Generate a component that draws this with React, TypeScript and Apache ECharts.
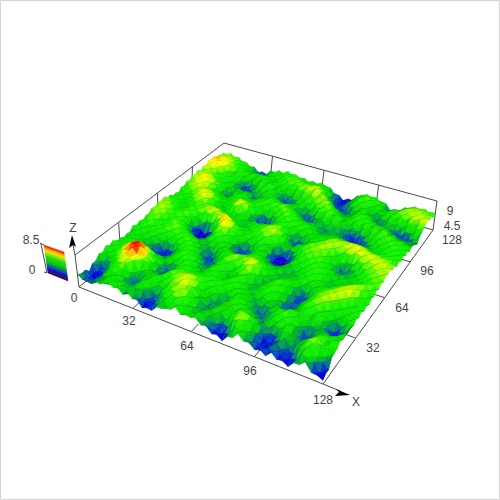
import React, { useEffect, useRef } from "react";
import * as echarts from "echarts";

// Surface heights, tenths of a Z unit. Rows run from Y=0 to Y=128, columns from X=0 to X=128.
const r00=[36,27,26,24,36,33,39,45,38,41,29,40,27,29,13,17,15,30,31,36,38,51,35,40,37,42,28,31,16,19,8,25,27,44,30,31,19,25,14,30,16,18,9,24,25,38,17,16,9];
const r01=[29,28,14,27,27,35,47,32,50,41,40,27,42,24,23,10,26,27,45,31,51,47,49,32,41,46,30,33,17,12,18,23,48,42,41,23,24,12,24,22,23,11,20,22,43,40,34,13,17];
const r02=[31,14,17,13,34,37,43,49,36,40,26,39,36,38,20,21,22,43,42,56,53,59,42,38,33,41,35,40,23,29,26,51,56,57,35,33,14,17,13,33,21,25,21,42,47,62,38,30,16];
const r03=[18,20,8,24,28,49,45,41,39,23,29,32,49,35,35,25,38,41,58,55,67,52,54,33,35,26,41,37,45,31,47,49,70,50,46,27,24,10,23,29,40,25,37,41,60,56,53,33,36];
const r04=[33,15,19,20,43,42,57,52,29,27,19,39,43,50,36,41,39,56,53,66,58,60,45,45,23,31,30,48,43,47,44,58,54,52,33,37,22,26,24,44,38,38,27,45,48,62,47,50,38];
const r05=[33,30,17,35,38,56,56,60,38,33,26,42,42,52,41,48,45,59,57,69,60,59,39,40,25,34,27,46,45,50,45,53,44,42,27,36,29,40,37,50,37,33,18,35,42,57,46,52,41];
const r06=[45,29,35,34,52,56,73,66,64,37,39,35,46,34,50,46,57,55,66,63,70,51,44,31,40,31,30,32,50,45,51,37,42,24,29,27,45,41,53,46,40,19,20,21,44,43,50,43,50];
const r07=[41,42,34,50,51,71,73,85,72,62,36,40,29,35,38,57,52,64,59,70,57,57,40,46,40,42,21,37,41,54,40,40,25,26,20,39,42,54,49,51,34,32,17,33,35,44,32,46,44];
const r08=[52,39,49,48,67,71,88,83,88,62,50,29,30,24,44,46,59,48,59,55,59,45,52,45,51,37,40,36,50,43,43,27,30,19,35,37,52,48,59,45,46,32,37,32,38,25,26,30,50];
const r09=[45,48,43,58,61,78,77,89,74,67,42,36,20,25,27,50,49,54,43,53,46,54,48,54,43,50,41,50,42,45,29,34,26,37,33,45,37,43,50,48,48,39,48,36,31,13,18,20,45];
const r10=[51,41,52,49,63,62,75,69,70,49,46,31,32,20,37,41,55,43,46,36,50,48,53,39,50,46,54,43,46,31,37,33,45,39,42,26,26,16,37,43,53,43,51,37,35,18,23,26,48];
const r11=[39,48,43,54,47,59,53,59,46,46,33,40,30,37,37,53,44,46,32,40,40,54,41,42,37,52,46,48,33,38,32,47,44,54,37,32,16,24,29,51,48,56,48,50,34,37,27,43,43];
const r12=[43,39,50,43,48,40,45,33,36,24,34,33,45,40,51,48,51,35,37,32,49,45,48,30,40,42,54,40,38,28,42,42,56,46,46,28,29,21,40,44,58,53,60,46,49,38,45,41,53];
const r13=[31,45,41,46,34,40,26,27,13,17,15,35,38,53,48,58,41,40,24,36,39,53,43,41,29,47,50,52,33,35,33,50,49,55,39,37,22,25,26,49,51,64,56,58,44,49,41,51,45];
const r14=[40,37,46,34,39,29,30,16,19,7,21,25,46,48,57,47,45,27,29,26,45,46,54,39,43,43,63,52,46,29,39,40,56,48,48,29,28,12,29,38,58,56,67,56,57,44,49,44,54];
const r15=[37,46,39,44,35,42,29,32,20,26,24,40,43,57,46,47,29,29,18,32,36,56,51,56,45,59,61,66,44,41,29,43,43,54,40,39,22,25,26,49,49,62,58,68,56,59,45,51,44];
const r16=[49,40,50,40,48,41,46,35,40,32,44,43,57,48,50,32,27,14,26,27,47,49,63,54,61,58,72,61,56,37,39,31,44,40,47,33,35,26,41,42,54,50,63,61,70,56,55,41,50];
const r17=[40,51,46,51,42,53,45,51,41,51,46,58,50,52,37,34,20,24,24,44,43,56,51,60,51,63,57,60,42,44,34,37,29,42,39,46,37,46,38,48,41,54,51,66,63,70,52,51,43];
const r18=[48,45,57,47,51,46,56,48,54,48,58,50,54,38,39,26,34,26,42,42,52,42,49,43,54,49,57,43,46,33,43,32,36,29,42,40,51,44,48,35,42,40,54,52,66,60,61,45,53];
const r19=[37,54,51,57,45,53,49,59,52,60,48,51,37,40,29,37,32,45,41,48,35,36,27,41,41,52,42,43,32,38,34,42,28,36,33,48,45,54,41,40,29,43,41,54,52,64,53,55,47];
const r20=[49,49,61,50,53,44,57,53,61,48,46,29,33,27,40,36,49,43,49,34,30,15,26,25,45,42,45,27,31,22,35,32,41,33,44,42,55,48,50,34,39,34,45,38,52,50,60,50,57];
const r21=[46,61,55,59,46,53,49,61,46,44,25,24,14,30,33,50,48,55,40,37,16,20,15,32,35,48,32,28,13,21,21,39,37,47,41,52,49,56,42,44,33,42,34,41,38,52,48,58,50];
const r22=[57,55,65,53,56,45,57,50,46,25,21,5,14,17,41,49,62,50,50,31,31,19,29,28,46,40,35,13,13,5,23,31,49,44,54,48,57,47,48,34,40,33,40,32,46,45,57,51,59];
const r23=[49,65,57,61,47,55,49,54,32,26,7,11,4,22,35,66,62,62,43,46,34,40,32,45,43,48,24,17,3,12,12,39,43,56,50,58,50,52,36,37,26,37,30,42,41,55,52,61,53];
const r24=[61,58,66,52,54,47,59,47,44,24,22,10,20,26,57,70,78,57,54,42,49,41,49,44,55,44,38,19,20,13,31,38,56,52,60,51,56,42,41,24,27,24,39,38,53,51,62,56,64];
const r25=[56,65,54,56,43,54,51,58,44,46,33,42,40,59,63,82,65,61,43,47,40,52,46,57,52,59,42,40,25,36,34,52,49,59,53,61,49,51,34,33,18,34,37,52,50,62,57,67,58];
const r26=[63,53,58,44,47,44,56,50,58,51,60,56,68,64,71,60,59,42,44,34,46,44,57,54,66,57,58,42,43,36,48,47,59,53,63,57,61,47,49,36,42,42,57,54,66,60,69,60,64];
const r27=[50,58,46,49,37,50,45,56,50,62,59,71,61,64,49,53,39,39,30,42,40,55,51,64,60,66,50,47,25,26,26,47,47,59,55,66,56,60,50,59,56,67,62,71,62,69,62,66,53];
const r28=[54,46,51,39,46,43,54,48,58,53,64,56,59,44,47,34,40,29,38,36,51,47,56,53,64,53,50,27,23,11,27,34,50,45,60,57,66,56,65,61,73,65,71,61,68,58,64,52,56];
const r29=[42,51,41,45,39,54,52,62,53,58,47,51,38,41,32,41,34,41,35,47,41,47,38,53,51,57,37,33,20,29,27,43,39,49,48,63,58,66,59,70,64,70,57,61,51,58,50,57,46];
const r30=[47,41,50,38,53,54,69,60,62,45,46,33,40,33,47,45,49,34,34,20,28,25,41,41,55,45,45,33,41,34,45,39,47,40,53,50,61,54,61,54,62,53,56,43,51,44,54,47,54];
const r31=[38,50,46,52,51,67,65,72,56,51,33,37,36,57,58,68,50,42,20,19,10,25,29,48,45,53,43,50,43,51,39,44,35,46,41,51,44,51,42,51,43,50,37,42,37,50,46,54,44];
const r32=[51,46,60,53,64,60,71,62,63,43,42,32,51,56,71,62,60,37,30,14,20,19,40,42,55,48,55,45,54,45,47,31,39,34,45,38,45,34,39,31,39,30,38,33,46,43,55,47,53];
const r33=[46,58,55,66,58,64,55,60,46,46,34,46,46,59,53,60,47,48,32,35,27,40,41,57,51,58,46,52,43,47,33,34,26,38,32,39,28,31,19,28,22,35,32,46,42,55,49,54,43];
const r34=[56,52,66,61,68,56,56,43,46,33,42,41,54,46,51,43,51,44,49,40,49,46,59,54,60,46,49,35,42,34,36,23,33,28,36,24,25,12,20,15,30,32,47,44,55,49,56,45,50];
const r35=[51,63,60,73,64,66,48,46,30,35,33,49,44,48,37,45,41,53,47,54,48,59,53,60,46,48,32,33,24,37,28,34,27,38,28,28,13,17,12,28,30,48,48,58,49,56,45,50,39];
const r36=[62,57,70,67,74,57,52,33,31,23,39,41,50,38,41,35,50,47,57,48,58,51,58,46,46,30,30,17,28,27,40,33,43,35,38,22,26,18,32,32,48,48,60,51,56,45,50,39,44];
const r37=[56,67,61,72,61,61,50,33,34,29,45,44,49,33,35,31,47,46,56,46,53,45,52,38,38,24,26,17,34,36,50,44,52,41,43,29,37,32,46,44,55,50,59,48,52,39,44,34,42];
const r38=[64,56,66,58,61,45,48,35,41,34,45,38,43,27,30,27,44,43,51,37,41,33,44,34,36,23,30,28,47,48,58,50,54,40,45,37,49,43,54,48,56,48,54,40,42,28,34,27,38];
const r39=[54,62,56,61,48,51,41,46,34,37,23,32,28,33,25,39,39,49,36,36,23,31,28,40,32,40,36,50,50,63,52,54,39,41,34,48,46,56,45,50,38,47,35,35,20,25,17,30,29];
const r40=[64,57,64,51,54,44,53,42,41,20,20,13,29,29,42,40,50,37,36,18,22,17,33,34,47,44,55,52,65,56,56,39,39,28,40,41,57,48,50,34,38,32,35,17,21,13,26,29,44];
const r41=[59,70,59,62,51,57,48,50,31,26,12,23,26,45,43,53,41,43,26,27,19,33,34,50,47,60,54,65,59,60,42,39,25,34,32,50,46,51,34,34,26,37,27,28,19,33,34,52,49];
const r42=[70,67,75,63,66,54,50,50,36,36,23,34,35,53,48,55,41,43,31,36,32,47,45,58,54,67,59,66,52,49,30,31,21,33,33,47,41,43,27,29,24,41,37,44,39,52,52,64,55];
const r43=[64,77,71,76,62,63,49,52,42,47,36,47,43,55,47,49,37,45,37,47,43,57,52,64,58,69,60,59,38,31,16,22,20,36,36,48,36,35,22,33,34,50,47,58,52,62,59,68,58];
const r44=[69,66,76,67,67,52,57,45,53,46,54,47,54,43,45,34,46,41,55,49,59,53,64,58,68,60,61,38,29,14,22,19,35,36,50,42,44,29,38,36,53,49,59,54,64,58,68,60,65];
const r45=[58,69,63,70,56,58,46,50,38,45,34,46,41,46,34,42,41,55,52,61,53,60,50,58,53,61,43,38,20,24,16,33,36,53,48,55,43,47,40,45,37,54,51,64,58,68,59,65,54];
const r46=[61,56,66,57,60,48,52,38,38,21,22,20,36,34,44,38,52,49,59,50,56,44,50,42,54,46,47,30,30,13,17,20,42,46,59,51,56,45,47,23,24,27,50,51,64,58,64,53,58];
const r47=[51,62,54,61,50,54,42,44,28,27,13,26,29,45,40,50,47,57,47,53,42,47,37,48,43,51,36,35,18,17,7,26,34,52,48,56,45,50,33,27,14,33,39,54,50,60,51,58,48];
const r48=[57,52,62,51,56,44,47,34,39,26,31,27,42,40,50,44,55,46,51,40,47,37,45,40,48,37,39,23,24,12,21,21,40,39,51,43,49,37,39,23,29,28,44,41,54,48,55,46,52];
const heightRows=[r00,r01,r02,r03,r04,r05,r06,r07,r08,r09,r10,r11,r12,r13,r14,r15,r16,r17,r18,r19,r20,r21,r22,r23,r24,r25,r26,r27,r28,r29,r30,r31,r32,r33,r34,r35,r36,r37,r38,r39,r40,r41,r42,r43,r44,r45,r46,r47,r48];

const xTicks=[0,32,64,96,128];
const yTicks=[32,64,96,128];
const zTicks=[4.5,9];
const legendTicks=[0,8.5];
const legendLevels=[0,0.5,1,1.5,2,2.5,3,3.5,4,4.5,5,5.5,6,6.5,7,7.5,8,8.5];
const colorStops:[number,number,number,number][]=[[0,16,0,24],[0.6,64,0,112],[1.4,0,0,200],[2.2,0,70,170],[3,0,140,70],[3.8,0,200,0],[5.2,20,220,0],[6.2,150,228,0],[7,240,235,0],[7.7,255,140,0],[8.5,240,0,0]];

const baseQuad=[[79,287],[323,384],[433,230],[222,170]];
const topQuad=[[75,255],[323,348],[437,201],[224,143]];
function homography(q:number[][]){
  const [[x0,y0],[x1,y1],[x2,y2],[x3,y3]]=q;
  const dx1=x1-x2,dx2=x3-x2,sx=x0-x1+x2-x3,dy1=y1-y2,dy2=y3-y2,sy=y0-y1+y2-y3;
  const den=dx1*dy2-dx2*dy1;
  const g=(sx*dy2-dx2*sy)/den,h=(dx1*sy-sx*dy1)/den;
  const a=x1-x0+g*x1,b=x3-x0+h*x3,d=y1-y0+g*y1,e=y3-y0+h*y3;
  return (u:number,v:number)=>{const w=g*u+h*v+1;return [(a*u+b*v+x0)/w,(d*u+e*v+y0)/w];};
}
const baseH=homography(baseQuad),topH=homography(topQuad);
function project(x:number,y:number,z:number){
  const b=baseH(x/128,y/128),t=topH(x/128,y/128),k=z/9;
  return [b[0]+(t[0]-b[0])*k,b[1]+(t[1]-b[1])*k];
}
function colorAt(z:number,f=1){
  let i=0; while(i<colorStops.length-2&&z>colorStops[i+1][0])i++;
  const a=colorStops[i],b=colorStops[i+1],t=Math.max(0,Math.min(1,(z-a[0])/(b[0]-a[0])));
  const c=[1,2,3].map(n=>Math.max(0,Math.min(255,Math.round((a[n]+(b[n]-a[n])*t)*f))));
  return `rgb(${c[0]},${c[1]},${c[2]})`;
}
const N=heightRows.length-1;
const H=(i:number,j:number)=>{const r=heightRows[j];return (r[i]??r[r.length-1])/10;};
const cells:number[][]=[];
for(let j=N-1;j>=0;j--)for(let i=0;i<N;i++){cells.push([i,j,0]);cells.push([i,j,1]);}

const segments:number[][]=[
  [0,0,0,0,0,9],[0,0,9,0,128,9],[0,128,9,128,128,9],[128,128,9,128,128,0],
  [0,0,0,128,0,0],[128,0,0,128,128,0],[0,0,0,0,128,0],[0,128,0,128,128,0],
  ...[32,64,96].map(t=>[0,t,0,0,t,9]),
  ...[32,64,96].map(t=>[t,128,0,t,128,9]),
  ...[32,64,96].map(t=>[t,0,0,t,6,0]),
  ...[32,64,96].map(t=>[128,t,0,122,t,0]),
];
const legendQuad=[[44,245],[64,252],[68,281],[48,273]];
const legendPoint=(s:number,t:number)=>{
  const [a,b,c,d]=legendQuad;
  const lx=d[0]+(a[0]-d[0])*t,ly=d[1]+(a[1]-d[1])*t,rx=c[0]+(b[0]-c[0])*t,ry=c[1]+(b[1]-c[1])*t;
  return [lx+(rx-lx)*s,ly+(ry-ly)*s];
};

const label=(text:string,x:number,y:number)=>({type:"text",x,y,silent:true,style:{text,fill:"#444",font:"12px 'Liberation Sans', Arial, sans-serif",textAlign:"center",textVerticalAlign:"middle"}});

export default function App(){
  const ref=useRef<HTMLDivElement>(null);
  useEffect(()=>{
    const chart=echarts.init(ref.current!,null,{renderer:"svg"});
    chart.setOption({
      animation:false,
      backgroundColor:"#fff",
      grid:{left:0,right:0,top:0,bottom:0},
      xAxis:{type:"value",min:0,max:500,show:false},
      yAxis:{type:"value",min:0,max:500,inverse:true,show:false},
      series:[
        {type:"custom",coordinateSystem:"cartesian2d",silent:true,z:1,data:segments,progressive:0,
          renderItem:(_:any,api:any)=>{
            const v=[0,1,2,3,4,5].map(k=>api.value(k));
            const a=api.coord(project(v[0],v[1],v[2])),b=api.coord(project(v[3],v[4],v[5]));
            return {type:"line",shape:{x1:a[0],y1:a[1],x2:b[0],y2:b[1]},style:{stroke:"#4a4a4a",lineWidth:1}};
          }},
        {type:"custom",coordinateSystem:"cartesian2d",silent:true,z:2,data:cells,progressive:0,
          renderItem:(_:any,api:any)=>{
            const i=api.value(0),j=api.value(1),half=api.value(2),st=128/N;
            const z00=H(i,j),z10=H(i+1,j),z11=H(i+1,j+1),z01=H(i,j+1);
            const tri=half===0?[[i,j+1,z01],[i+1,j+1,z11],[i,j,z00]]:[[i+1,j+1,z11],[i+1,j,z10],[i,j,z00]];
            const sx=half===0?z11-z01:z10-z00,sy=half===0?z01-z00:z11-z10;
            const f=Math.max(0.5,Math.min(1.12,1-0.09*sx+0.1*sy));
            const pts=tri.map(p=>api.coord(project(p[0]*st,p[1]*st,p[2])));
            const c=colorAt((tri[0][2]+tri[1][2]+tri[2][2])/3,f);
            return {type:"polygon",shape:{points:pts},style:{fill:c,stroke:c,lineWidth:0.4}};
          }},
        {type:"custom",coordinateSystem:"cartesian2d",silent:true,z:3,data:legendLevels.slice(0,-1).map((l,k)=>[l,legendLevels[k+1]]),progressive:0,
          renderItem:(_:any,api:any)=>{
            const lo=api.value(0),hi=api.value(1),c=colorAt((lo+hi)/2);
            const pts=[legendPoint(0,lo/8.5),legendPoint(1,lo/8.5),legendPoint(1,hi/8.5),legendPoint(0,hi/8.5)].map(p=>api.coord(p));
            return {type:"polygon",shape:{points:pts},style:{fill:c,stroke:c,lineWidth:0.4}};
          }},
      ],
      graphic:[
        {type:"rect",shape:{x:0.5,y:0.5,width:499,height:499},style:{fill:"none",stroke:"#d4d4d4",lineWidth:1},silent:true},
        {type:"polyline",shape:{points:[[40,243],[44,245]]},style:{stroke:"#4a4a4a",fill:"none"},silent:true},
        {type:"polyline",shape:{points:[[41,244],[47,273],[44,272]]},style:{stroke:"#4a4a4a",fill:"none"},silent:true},
        {type:"line",shape:{x1:75,y1:255,x2:73,y2:245},style:{stroke:"#4a4a4a"},silent:true},
        {type:"polygon",shape:{points:[[72,235],[76,247],[73,245],[69,248]]},style:{fill:"#000"},silent:true},
        {type:"line",shape:{x1:323,y1:384,x2:340,y2:391},style:{stroke:"#4a4a4a"},silent:true},
        {type:"polygon",shape:{points:[[350,395],[336,389],[339,392],[335,396]]},style:{fill:"#000"},silent:true},
        label("8.5",31,240),label(String(legendTicks[0]),32,270),label("Z",73,228),label("X",356,402),
        label(String(xTicks[0]),74,298),label(String(xTicks[1]),129,321),label(String(xTicks[2]),187,346),label(String(xTicks[3]),250,371),label(String(xTicks[4]),323,400),
        label(String(yTicks[0]),373,348),label(String(yTicks[1]),402,308),label(String(yTicks[2]),427,271),label(String(yTicks[3]),452,240),
        label(String(zTicks[0]),452,226),label(String(zTicks[1]),450,211),
      ],
    });
    return ()=>chart.dispose();
  },[]);
  return <div ref={ref} style={{position:"fixed",left:0,top:0,width:500,height:500}}/>;
}
